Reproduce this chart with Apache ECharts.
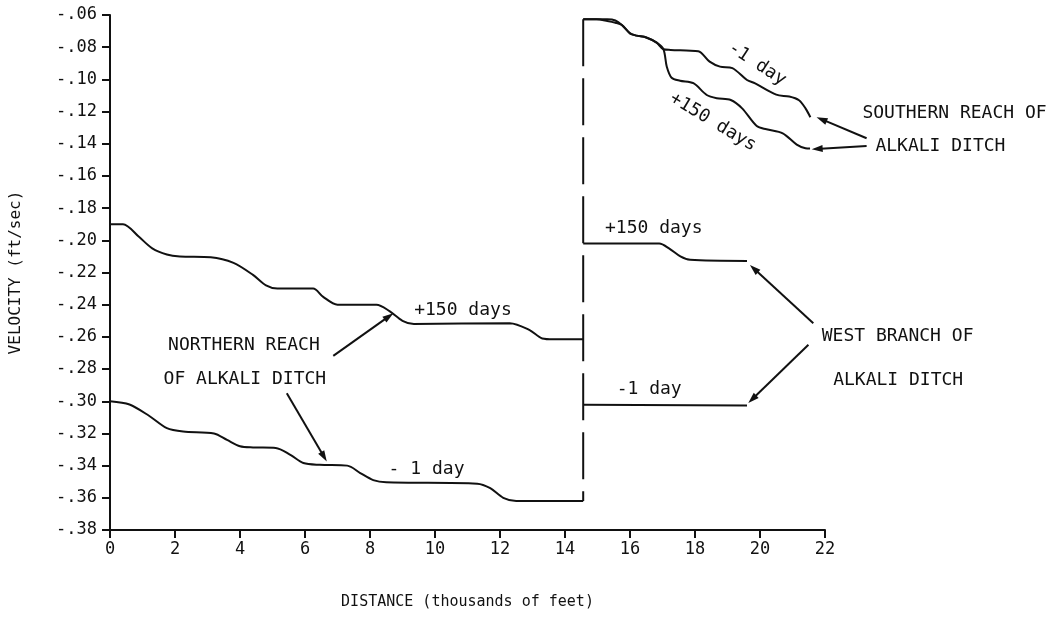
<!DOCTYPE html>
<html>
<head>
<meta charset="utf-8">
<script src="https://cdn.jsdelivr.net/npm/echarts@6/dist/echarts.min.js"></script>
<style>
  html, body { margin: 0; padding: 0; background: #fff; }
  #chart { width: 1053px; height: 622px; }
</style>
</head>
<body>
<div id="chart"></div>
<script>
// ---- data (distance in thousands of feet, velocity in ft/sec) ----
const northPlus150 = [[0,-0.190],[0.4,-0.190],[0.9,-0.198],[1.3,-0.205],[1.75,-0.2088],[2.15,-0.210],[3.1,-0.2105],[3.8,-0.214],[4.4,-0.2215],[4.8,-0.228],[5.15,-0.230],[6.25,-0.230],[6.55,-0.235],[7.0,-0.240],[8.2,-0.240],[8.6,-0.244],[9.0,-0.250],[9.35,-0.252],[12.3,-0.2515],[12.9,-0.2556],[13.3,-0.261],[13.65,-0.2615],[14.56,-0.2615]];
const northMinus1 = [[0,-0.300],[0.6,-0.302],[1.2,-0.309],[1.75,-0.3167],[2.25,-0.3188],[3.2,-0.320],[3.6,-0.324],[4.0,-0.328],[4.4,-0.3287],[5.1,-0.329],[5.55,-0.3333],[5.95,-0.3384],[6.45,-0.3395],[7.3,-0.340],[7.7,-0.3446],[8.1,-0.349],[8.5,-0.3504],[11.3,-0.3512],[11.7,-0.354],[12.1,-0.360],[12.5,-0.362],[14.56,-0.362]];
const southMinus1 = [[14.56,-0.0627],[14.97,-0.0627],[15.3,-0.0627],[15.55,-0.0634],[15.75,-0.0662],[16.0,-0.0714],[16.2,-0.0728],[16.5,-0.074],[16.82,-0.0772],[17.03,-0.0813],[17.25,-0.0817],[18.1,-0.0825],[18.45,-0.089],[18.77,-0.0921],[19.15,-0.093],[19.6,-0.1004],[19.85,-0.1025],[20.5,-0.1095],[20.9,-0.1107],[21.2,-0.113],[21.4,-0.118],[21.55,-0.1235]];
const southPlus150 = [[14.56,-0.0627],[14.97,-0.0627],[15.3,-0.0637],[15.55,-0.0648],[15.75,-0.0662],[16.0,-0.0714],[16.2,-0.0728],[16.5,-0.074],[16.82,-0.0772],[17.03,-0.0813],[17.13,-0.092],[17.28,-0.099],[17.54,-0.1008],[17.95,-0.1024],[18.36,-0.1097],[18.67,-0.1117],[19.1,-0.1128],[19.45,-0.118],[19.9,-0.129],[20.2,-0.131],[20.7,-0.1335],[21.13,-0.1405],[21.4,-0.1428],[21.54,-0.143]];
const westPlus150 = [[14.56,-0.202],[16.9,-0.202],[17.2,-0.205],[17.55,-0.210],[17.85,-0.2121],[19.6,-0.2128]];
const westMinus1 = [[14.56,-0.3022],[19.6,-0.3026]];
const divider = [[14.56,-0.0627],[14.56,-0.362]];

// axis ranges / ticks
const xRange = [0, 22, 2];
const yRange = [-0.38, -0.06, 0.02];
const xTitle = 'DISTANCE (thousands of feet)';
const yTitle = 'VELOCITY (ft/sec)';

// annotations: [text, distance, velocity, align, rotationDeg]
const labels = [
  ['+150 days', 10.86, -0.2432, 'center', 0],
  ['NORTHERN REACH', 4.12, -0.2650, 'center', 0],
  ['OF ALKALI DITCH', 4.15, -0.2862, 'center', 0],
  ['- 1 day', 9.74, -0.3426, 'center', 0],
  ['-1 day', 19.91, -0.0904, 'center', -33],
  ['+150 days', 18.55, -0.1265, 'center', -31],
  ['SOUTHERN REACH OF', 23.15, -0.1209, 'left', 0],
  ['ALKALI DITCH', 23.55, -0.1418, 'left', 0],
  ['+150 days', 15.23, -0.1923, 'left', 0],
  ['-1 day', 15.59, -0.2929, 'left', 0],
  ['WEST BRANCH OF', 21.9, -0.2598, 'left', 0],
  ['ALKALI DITCH', 22.25, -0.2867, 'left', 0]
];
// arrows: [tailDist, tailVel, headDist, headVel]
const arrows = [
  [6.87, -0.2718, 8.72, -0.2453],
  [5.44, -0.2950, 6.67, -0.3374],
  [23.28, -0.1366, 21.74, -0.1235],
  [23.28, -0.1414, 21.59, -0.1434],
  [21.64, -0.2515, 19.69, -0.2153],
  [21.49, -0.2649, 19.64, -0.3011]
];

const FONT = 'DejaVu Sans Mono';
const INK = '#111';

function lineSeries(data, extra) {
  return Object.assign({
    type: 'line', data: data, showSymbol: false, symbol: 'none',
    smooth: 0.3, silent: true, animation: false,
    lineStyle: { color: INK, width: 2 }
  }, extra || {});
}

const chart = echarts.init(document.getElementById('chart'), null, { renderer: 'canvas' });
chart.setOption({
  backgroundColor: '#fff',
  animation: false,
  grid: { left: 110, right: 228, top: 15, bottom: 92, containLabel: false },
  xAxis: {
    type: 'value', min: xRange[0], max: xRange[1], interval: xRange[2],
    name: xTitle, nameLocation: 'middle', nameGap: 65,
    nameTextStyle: { fontFamily: FONT, fontSize: 15, color: INK },
    axisLine: { onZero: false, lineStyle: { color: INK, width: 2 } },
    axisTick: { inside: false, length: 8, lineStyle: { color: INK, width: 2 } },
    axisLabel: { margin: 11, fontFamily: FONT, fontSize: 17, color: INK },
    splitLine: { show: false }
  },
  yAxis: {
    type: 'value', min: yRange[0], max: yRange[1], interval: yRange[2],
    name: yTitle, nameLocation: 'middle', nameGap: 86, nameRotate: 90,
    nameTextStyle: { fontFamily: FONT, fontSize: 16, color: INK },
    axisLine: { onZero: false, lineStyle: { color: INK, width: 2 } },
    axisTick: { inside: false, length: 8, lineStyle: { color: INK, width: 2 } },
    axisLabel: {
      margin: 13, fontFamily: FONT, fontSize: 17, color: INK,
      formatter: function (v) {
        const n = Math.round(Math.abs(v) * 100);
        return '-.' + (n < 10 ? '0' + n : '' + n);
      }
    },
    splitLine: { show: false }
  },
  series: [
    lineSeries(northPlus150),
    lineSeries(northMinus1),
    lineSeries(southMinus1),
    lineSeries(southPlus150),
    lineSeries(westPlus150),
    lineSeries(westMinus1),
    lineSeries(divider, { smooth: false, lineStyle: { color: INK, width: 2, type: [47, 12] } })
  ]
});

function px(d, v) { return chart.convertToPixel({ gridIndex: 0 }, [d, v]); }
const graphics = [];
labels.forEach(function (l) {
  const p = px(l[1], l[2]);
  graphics.push({
    type: 'text', x: p[0], y: p[1], rotation: l[4] * Math.PI / 180,
    silent: true,
    style: { text: l[0], fill: INK, font: '18px "' + FONT + '"', textAlign: l[3], textVerticalAlign: 'middle' }
  });
});
arrows.forEach(function (a) {
  const t = px(a[0], a[1]);
  const h = px(a[2], a[3]);
  const dx = h[0] - t[0], dy = h[1] - t[1];
  const len = Math.sqrt(dx * dx + dy * dy);
  const ux = dx / len, uy = dy / len;
  const L = 11, W = 3.5;
  const bx = h[0] - ux * L, by = h[1] - uy * L;
  graphics.push({
    type: 'line', silent: true,
    shape: { x1: t[0], y1: t[1], x2: bx + ux * 2, y2: by + uy * 2 },
    style: { stroke: INK, lineWidth: 2 }
  });
  graphics.push({
    type: 'polygon', silent: true,
    shape: { points: [[h[0], h[1]], [bx - uy * W, by + ux * W], [bx + uy * W, by - ux * W]] },
    style: { fill: INK }
  });
});
chart.setOption({ graphic: graphics });
</script>
</body>
</html>
